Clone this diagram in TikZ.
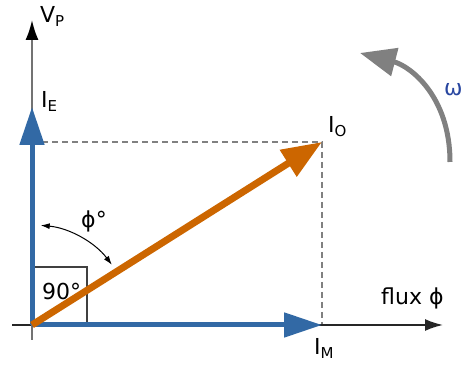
\documentclass[tikz,border=0pt]{standalone}
\usepackage{fontspec}
\setmainfont{DejaVu Sans}
\usetikzlibrary{arrows.meta}
\definecolor{vblue}{RGB}{50,105,165}
\definecolor{vorange}{RGB}{204,102,0}
\definecolor{vgray}{RGB}{128,128,128}
\definecolor{wblue}{RGB}{40,70,160}
\newcommand\subs[1]{\raisebox{-4pt}{\fontsize{15}{17}\selectfont #1}}
\begin{document}
\begin{tikzpicture}[x=1pt,y=1pt,
  lbl/.style={inner sep=0pt, font=\fontsize{22}{24}\selectfont},
  guide/.style={vgray, line width=1.2pt, dash pattern=on 6pt off 4pt},
  axisline/.style={line width=1.8pt},
  bluevec/.style={vblue, line width=5pt, -{Triangle[length=38pt,width=24pt]}},
  orangevec/.style={vorange, line width=7pt, -{Triangle[length=40pt,width=30pt]}},
  rotarrow/.style={vgray, line width=5pt, -{Triangle[length=36pt,width=28pt]}},
  anglearc/.style={black, line width=1pt, {Latex[length=9pt,width=6pt]}-{Latex[length=9pt,width=6pt]}},
  boxline/.style={black!75, line width=1.5pt}]
\useasboundingbox (0,0) rectangle (464,366);
% key points
\coordinate (O) at (32,41);
\coordinate (vtop) at (32,346);
\coordinate (vbot) at (32,26);
\coordinate (hleft) at (12,41);
\coordinate (hright) at (443,41);
\coordinate (IEtip) at (32,259);
\coordinate (IMtip) at (322,41);
\coordinate (IOtip) at (322,224);
\coordinate (dashcorner) at (32,224);
\coordinate (boxcorner) at (87,99);
\coordinate (wstart) at (450,204);
\coordinate (wend) at (360,313);
% guides
\draw[guide] (dashcorner) -- (IOtip) -- (IMtip);
\draw[boxline] (O) rectangle (boxcorner);
% axes
\draw[axisline, black!85, -{Latex[length=18pt,width=12pt]}] (hleft) -- (hright);
\draw[axisline, black!55, -{Latex[length=20pt,width=13pt,color=black]}] (vbot) -- (vtop);
% vectors
\draw[bluevec] (O) -- (IEtip);
\draw[bluevec] (O) -- (IMtip);
\draw[orangevec] (O) -- (IOtip);
% angle arc
\draw[anglearc] (O) ++(85:100) arc[start angle=85, end angle=37, radius=100];
% rotation arrow
\draw[rotarrow] (wstart) .. controls (450,270) and (410,300) .. (wend);
% labels
\node[lbl, anchor=base west] (vp) at (40,343) {V\subs{P}};
\node[lbl, anchor=base west] (ie) at (41,258) {I\subs{E}};
\node[lbl, anchor=base west] (io) at (328,233) {I\subs{O}};
\node[lbl, anchor=base west] (im) at (314,11) {I\subs{M}};
\node[lbl, anchor=base west] (flux) at (381,61) {flux ϕ};
\node[lbl, anchor=base west] (ninety) at (42,66) {90°};
\node[lbl] (phi) at (94,145) {ϕ°};
\node[lbl, anchor=base west, text=wblue] (omega) at (444,270) {ω};
\end{tikzpicture}
\end{document}
